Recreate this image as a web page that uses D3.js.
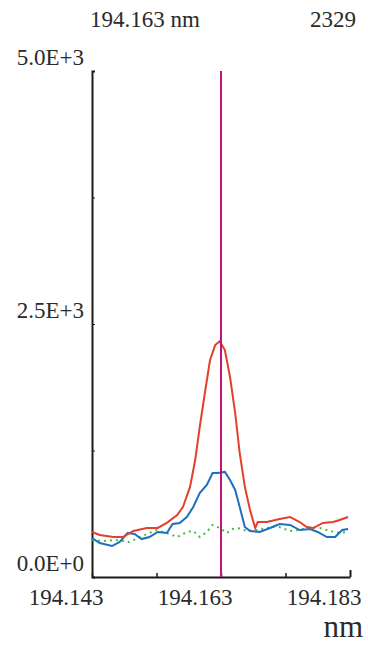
<!DOCTYPE html>
<html>
<head>
<meta charset="utf-8">
<script src="https://cdn.jsdelivr.net/npm/d3@7"></script>
<style>
  html, body { margin: 0; padding: 0; background: #fff; }
  svg { display: block; }
</style>
</head>
<body>
<script>
const width = 368;
const height = 645;

// wavelengths (nm) and intensities
const redWl = [194.1430, 194.1442, 194.1463, 194.1478, 194.1494, 194.1515, 194.1532, 194.1546, 194.1562, 194.1571, 194.1582, 194.1590, 194.1597, 194.1605, 194.1613, 194.1621, 194.1628, 194.1636, 194.1644, 194.1652, 194.1659, 194.1667, 194.1675, 194.1683, 194.1687, 194.1701, 194.1721, 194.1737, 194.1752, 194.1763, 194.1773, 194.1788, 194.1804, 194.1814, 194.1827];
const redVal = [445, 415, 395, 395, 455, 485, 485, 535, 612, 692, 890, 1156, 1482, 1818, 2144, 2292, 2329, 2243, 1976, 1620, 1225, 890, 662, 484, 543, 543, 573, 593, 543, 494, 484, 534, 543, 563, 593];

const blueWl = [194.1430, 194.1442, 194.1461, 194.1473, 194.1485, 194.1496, 194.1507, 194.1519, 194.1532, 194.1546, 194.1555, 194.1566, 194.1577, 194.1587, 194.1597, 194.1608, 194.1617, 194.1625, 194.1636, 194.1644, 194.1652, 194.1659, 194.1667, 194.1675, 194.1690, 194.1706, 194.1721, 194.1737, 194.1752, 194.1768, 194.1780, 194.1794, 194.1807, 194.1818, 194.1827];
const blueVal = [385, 336, 306, 346, 435, 425, 375, 395, 445, 435, 524, 534, 593, 692, 830, 909, 1028, 1028, 1038, 958, 860, 692, 494, 455, 445, 484, 524, 514, 464, 474, 445, 395, 395, 464, 474];

const greenWl = [194.1430, 194.1447, 194.1468, 194.1488, 194.1508, 194.1530, 194.1546, 194.1562, 194.1577, 194.1587, 194.1597, 194.1608, 194.1617, 194.1628, 194.1639, 194.1648, 194.1656, 194.1670, 194.1685, 194.1701, 194.1716, 194.1737, 194.1752, 194.1768, 194.1783, 194.1799, 194.1814, 194.1827];
const greenVal = [366, 356, 366, 346, 405, 464, 435, 395, 445, 455, 395, 445, 514, 484, 435, 474, 484, 455, 464, 484, 504, 455, 464, 494, 484, 455, 435, 445];

const cursorWl = 194.163;
const peakLabel = "2329";
const xTicks = [194.143, 194.153, 194.163, 194.173, 194.183];
const xLabelled = [194.143, 194.163, 194.183];
const yTicks = [0, 1250, 2500, 3750, 5000];
const yLabels = ["0.0E+0", "", "2.5E+3", "", "5.0E+3"];

const colors = {
  red: "#e2402a",
  blue: "#1d6fc0",
  green: "#45bd3c",
  cursor: "#c4127c",
  axis: "#1a1a1a",
  text: "#2a2a2a",
};
const font = "'Liberation Serif', 'DejaVu Serif', serif";

const x = d3.scaleLinear().domain([194.143, 194.183]).range([92, 350]);
const y = d3.scaleLinear().domain([0, 5000]).range([577, 71]);

const svg = d3.select("body")
  .append("svg")
  .attr("width", width)
  .attr("height", height)
  .attr("viewBox", `0 0 ${width} ${height}`);

svg.append("rect").attr("width", width).attr("height", height).attr("fill", "#fff");

// header
svg.append("text")
  .attr("x", 90).attr("y", 27)
  .attr("fill", colors.text)
  .attr("font-family", font).attr("font-size", 23)
  .text(`${d3.format(".3f")(cursorWl)} nm`);

svg.append("text")
  .attr("x", 356).attr("y", 27)
  .attr("text-anchor", "end")
  .attr("fill", colors.text)
  .attr("font-family", font).attr("font-size", 23)
  .text(peakLabel);

// axes
const yAxis = svg.append("g")
  .attr("transform", `translate(${x.range()[0]},0)`)
  .call(d3.axisLeft(y).tickValues(yTicks).tickSize(-3).tickPadding(8)
    .tickFormat((d, i) => yLabels[i]));
yAxis.select(".domain").attr("stroke", colors.axis).attr("stroke-width", 2);
yAxis.selectAll(".tick line").attr("stroke", colors.axis);
yAxis.selectAll("text")
  .attr("fill", colors.text)
  .attr("font-family", font).attr("font-size", 23)
  .attr("dy", "-0.3em");

const xAxis = svg.append("g")
  .attr("transform", `translate(0,${y.range()[0]})`)
  .call(d3.axisBottom(x).tickValues(xTicks).tickSize(-4).tickSizeOuter(0)
    .tickFormat((d) => (xLabelled.includes(d) ? d3.format(".3f")(d) : "")));
xAxis.select(".domain").attr("stroke", colors.axis).attr("stroke-width", 2);
xAxis.selectAll(".tick line").attr("stroke", colors.axis).attr("stroke-width", 1.5);
xAxis.selectAll(".tick").filter((d) => d === 194.183).select("line").attr("y2", -7).attr("stroke-width", 2);
xAxis.selectAll("text")
  .attr("fill", colors.text)
  .attr("font-family", font).attr("font-size", 23)
  .attr("text-anchor", "end")
  .attr("x", 11)
  .attr("y", 12)
  .attr("dy", "0.71em");

svg.append("text")
  .attr("x", 363).attr("y", 637)
  .attr("text-anchor", "end")
  .attr("fill", colors.text)
  .attr("font-family", font).attr("font-size", 31)
  .text("nm");

// spectra
const line = d3.line().x((d) => x(d[0])).y((d) => y(d[1]));

svg.append("path")
  .datum(d3.zip(greenWl, greenVal))
  .attr("fill", "none")
  .attr("stroke", colors.green)
  .attr("stroke-width", 2)
  .attr("stroke-dasharray", "2,4")
  .attr("d", line);

svg.append("path")
  .datum(d3.zip(blueWl, blueVal))
  .attr("fill", "none")
  .attr("stroke", colors.blue)
  .attr("stroke-width", 2)
  .attr("d", line);

svg.append("path")
  .datum(d3.zip(redWl, redVal))
  .attr("fill", "none")
  .attr("stroke", colors.red)
  .attr("stroke-width", 2)
  .attr("d", line);

// cursor
svg.append("line")
  .attr("x1", x(cursorWl)).attr("x2", x(cursorWl))
  .attr("y1", y(5000)).attr("y2", y(0))
  .attr("stroke", colors.cursor)
  .attr("stroke-width", 2);
</script>
</body>
</html>
